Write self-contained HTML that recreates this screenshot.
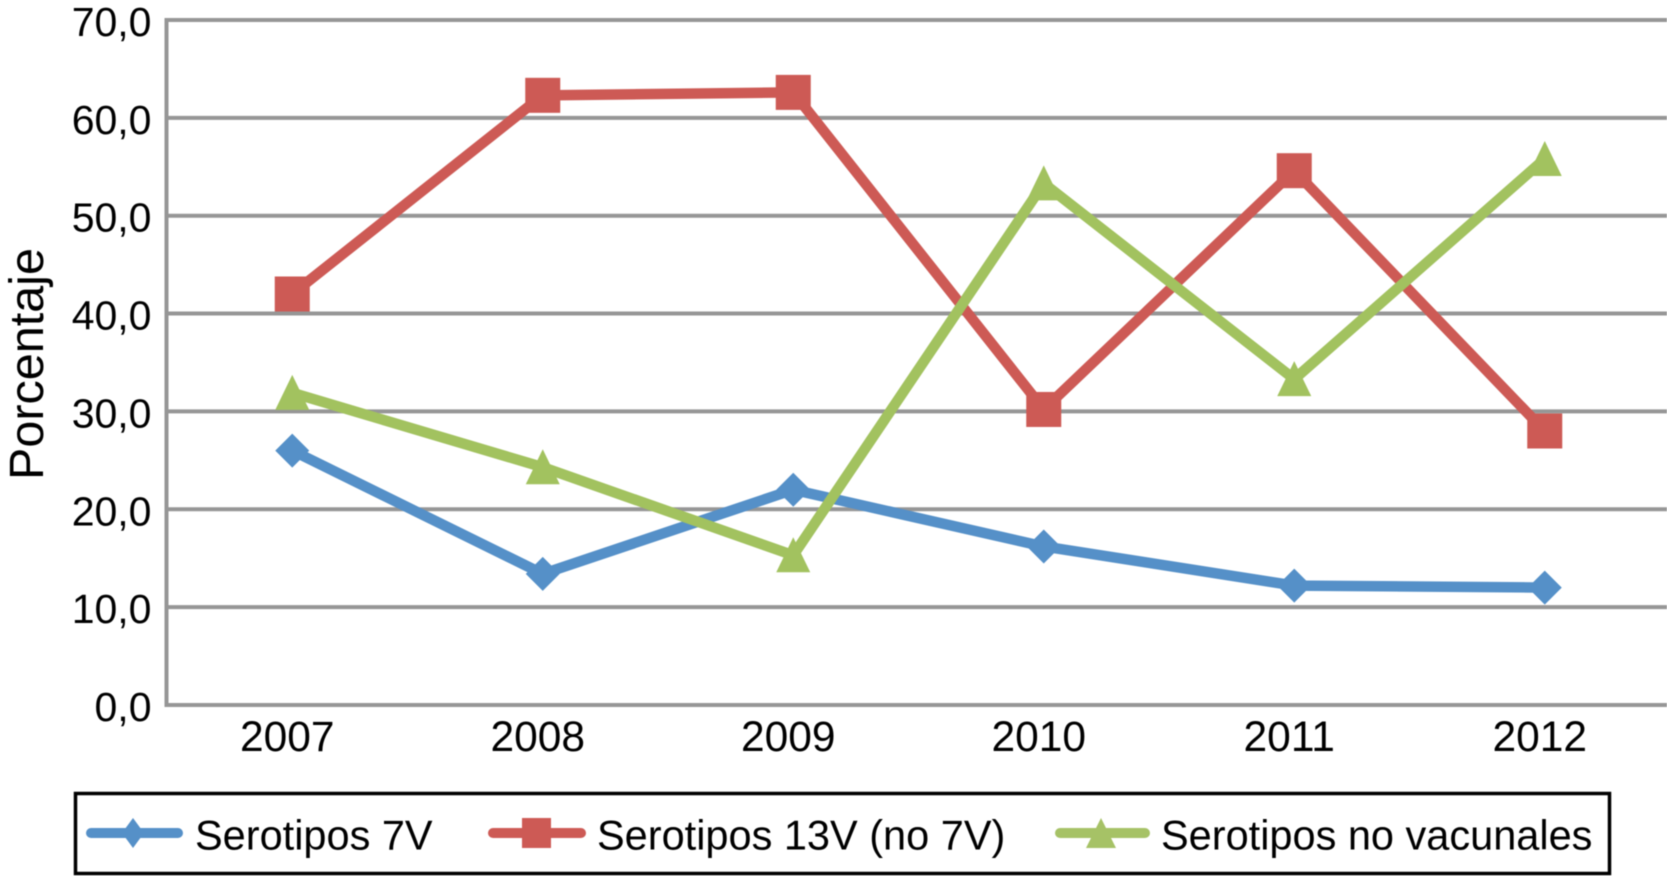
<!DOCTYPE html>
<html lang="es">
<head>
<meta charset="utf-8">
<title>Serotipos por año</title>
<style>
html,body{margin:0;padding:0;background:#fff;width:1667px;height:876px;overflow:hidden}
svg{display:block;font-family:"Liberation Sans",Arial,sans-serif;fill:#000;filter:blur(0.5px)}
</style>
</head>
<body>
<svg id="chart" xmlns="http://www.w3.org/2000/svg" width="1667" height="876" viewBox="0 0 1667 876">
  <g id="grid"></g>
  <g id="ylabels"></g>
  <g id="xlabels"></g>
  <text transform="translate(43 364) rotate(-90)" text-anchor="middle" font-size="48.5">Porcentaje</text>
  <g id="series"></g>
  <g>
    <rect x="75.5" y="793.5" width="1534" height="80" fill="#fff" stroke="#000" stroke-width="3.5"/>
    <g>
      <line x1="91" y1="833" x2="178" y2="833" stroke="#5590c8" stroke-width="10" stroke-linecap="round"/>
      <polygon points="133,818 144,833 133,848 122,833" fill="#5590c8"/>
      <text x="195" y="849.5" font-size="41.5">Serotipos 7V</text>
    </g>
    <g>
      <line x1="493" y1="833" x2="581" y2="833" stroke="#cd5a55" stroke-width="10" stroke-linecap="round"/>
      <rect x="522" y="818" width="29" height="30" fill="#cd5a55"/>
      <text x="597" y="849.5" font-size="41.5">Serotipos 13V (no 7V)</text>
    </g>
    <g>
      <line x1="1060" y1="833" x2="1145" y2="833" stroke="#a6c266" stroke-width="10" stroke-linecap="round"/>
      <polygon points="1101,818 1116,848 1086,848" fill="#a6c266"/>
      <text x="1161" y="849.5" font-size="41.5">Serotipos no vacunales</text>
    </g>
  </g>
</svg>
<script>
const categories = ['2007', '2008', '2009', '2010', '2011', '2012'];
const yTicks = [0, 10, 20, 30, 40, 50, 60, 70];
const yTickLabels = ['0,0', '10,0', '20,0', '30,0', '40,0', '50,0', '60,0', '70,0'];
const serotipos7V = [26.0, 13.4, 22.0, 16.2, 12.2, 12.0];
const serotipos13V = [42.0, 62.3, 62.6, 30.2, 54.6, 28.0];
const serotiposNoVacunales = [31.9, 24.3, 15.3, 53.3, 33.3, 55.8];

const NS = 'http://www.w3.org/2000/svg';
const axisLeft = 166.5, plotLeft = 167, bandWidth = 250.5, yZero = 705, pxPerUnit = 9.786;
const xScale = function (i) { return plotLeft + bandWidth * (i + 0.5); };
const yScale = function (v) { return yZero - v * pxPerUnit; };

const grid = document.getElementById('grid');
const ylabels = document.getElementById('ylabels');
const xlabels = document.getElementById('xlabels');
const seriesGroup = document.getElementById('series');

yTicks.forEach(function (t, i) {
  const line = document.createElementNS(NS, 'line');
  
  
  line.setAttribute('x1', axisLeft - 2);
  line.setAttribute('x2', 1667);
  line.setAttribute('y1', yScale(t));
  line.setAttribute('y2', yScale(t));
  line.setAttribute('stroke', '#969696');
  line.setAttribute('stroke-width', '4');
  grid.appendChild(line);

  const label = document.createElementNS(NS, 'text');
  
  
  label.setAttribute('x', 151.5);
  label.setAttribute('y', yScale(t) + 16);
  label.setAttribute('text-anchor', 'end');
  label.setAttribute('font-size', '41');
  label.textContent = yTickLabels[i];
  ylabels.appendChild(label);
});

const yAxis = document.createElementNS(NS, 'line');


yAxis.setAttribute('x1', axisLeft);
yAxis.setAttribute('x2', axisLeft);
yAxis.setAttribute('y1', yScale(70) - 2);
yAxis.setAttribute('y2', yZero + 2);
yAxis.setAttribute('stroke', '#969696');
yAxis.setAttribute('stroke-width', '4');
grid.appendChild(yAxis);

categories.forEach(function (c, i) {
  const label = document.createElementNS(NS, 'text');
  
  
  label.setAttribute('x', xScale(i) - 5);
  label.setAttribute('y', 751);
  label.setAttribute('text-anchor', 'middle');
  label.setAttribute('font-size', '42.5');
  label.textContent = c;
  xlabels.appendChild(label);
});

function drawLine(values, color, name) {
  const line = document.createElementNS(NS, 'polyline');
  
  
  line.setAttribute('points', values.map(function (v, i) { return xScale(i) + ',' + yScale(v); }).join(' '));
  line.setAttribute('fill', 'none');
  line.setAttribute('stroke', color);
  line.setAttribute('stroke-width', '10.5');
  line.setAttribute('stroke-linejoin', 'round');
  seriesGroup.appendChild(line);
}

drawLine(serotipos7V, '#5590c8', 'series-line-7v');
drawLine(serotipos13V, '#cd5a55', 'series-line-13v');
drawLine(serotiposNoVacunales, '#a2c25f', 'series-line-no-vacunales');

serotipos7V.forEach(function (v, i) {
  const x = xScale(i), y = yScale(v);
  const m = document.createElementNS(NS, 'polygon');
  
  
  m.setAttribute('points', x + ',' + (y - 17) + ' ' + (x + 17) + ',' + y + ' ' + x + ',' + (y + 17) + ' ' + (x - 17) + ',' + y);
  m.setAttribute('fill', '#5590c8');
  seriesGroup.appendChild(m);
});

serotipos13V.forEach(function (v, i) {
  const x = xScale(i), y = yScale(v);
  const m = document.createElementNS(NS, 'rect');
  
  
  m.setAttribute('x', x - 17.5);
  m.setAttribute('y', y - 17.5);
  m.setAttribute('width', 35);
  m.setAttribute('height', 35);
  m.setAttribute('fill', '#cd5a55');
  seriesGroup.appendChild(m);
});

serotiposNoVacunales.forEach(function (v, i) {
  const x = xScale(i), y = yScale(v);
  const m = document.createElementNS(NS, 'polygon');
  
  
  m.setAttribute('points', x + ',' + (y - 18) + ' ' + (x + 17) + ',' + (y + 17) + ' ' + (x - 17) + ',' + (y + 17));
  m.setAttribute('fill', '#a2c25f');
  seriesGroup.appendChild(m);
});
</script>
</body>
</html>
